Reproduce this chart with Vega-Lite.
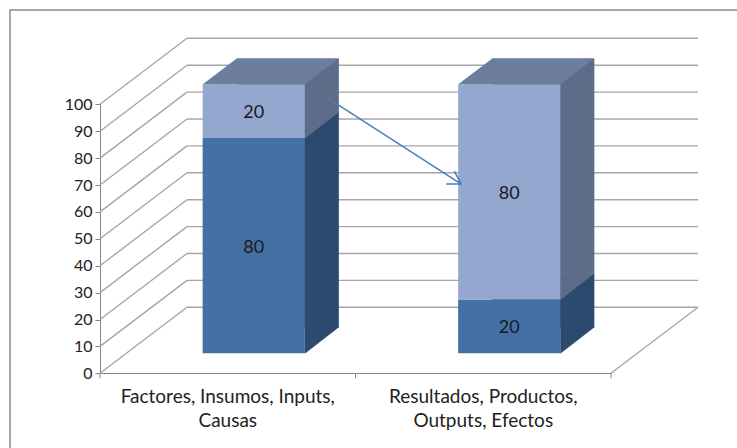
{
  "$schema": "https://vega.github.io/schema/vega-lite/v6.json",
  "width": 730,
  "height": 441,
  "autosize": {"type": "none"},
  "padding": {"left": 10, "top": 10, "right": -3, "bottom": -3},
  "background": "white",
  "config": {
    "font": "Lato",
    "view": {"stroke": "#8c8c8c", "strokeWidth": 1.5},
    "axis": {"grid": false, "domainColor": "#868686", "tickColor": "#868686", "tickSize": 5, "labelColor": "#222222"}
  },
  "datasets": {
    "bars": [
      {"cat": "Factores, Insumos, Inputs, Causas", "serie": "Serie 1", "value": 80},
      {"cat": "Factores, Insumos, Inputs, Causas", "serie": "Serie 2", "value": 20},
      {"cat": "Resultados, Productos, Outputs, Efectos", "serie": "Serie 1", "value": 20},
      {"cat": "Resultados, Productos, Outputs, Efectos", "serie": "Serie 2", "value": 80}
    ],
    "cats": [
      {"cat": "Factores, Insumos, Inputs, Causas"},
      {"cat": "Resultados, Productos, Outputs, Efectos"}
    ],
    "ticks": [{"v": 0}, {"v": 10}, {"v": 20}, {"v": 30}, {"v": 40}, {"v": 50}, {"v": 60}, {"v": 70}, {"v": 80}, {"v": 90}, {"v": 100}]
  },
  "layer": [
    {
      "data": {"name": "bars"},
      "transform": [{"stack": "value", "groupby": ["cat"], "sort": [{"field": "serie", "order": "ascending"}], "as": ["v0", "v1"]}],
      "mark": {"type": "bar", "width": {"band": 0.4}, "opacity": 0},
      "encoding": {
        "x": {
          "field": "cat", "type": "nominal", "title": null,
          "scale": {"domain": ["Factores, Insumos, Inputs, Causas", "Resultados, Productos, Outputs, Efectos"], "range": [90, 601], "paddingInner": 0, "paddingOuter": 0},
          "axis": {"orient": "bottom", "offset": -78, "labelAngle": 0, "ticks": false, "labelFontSize": 19, "labelPadding": 14, "labelLineHeight": 24, "labelLimit": 400,
                   "labelExpr": "datum.value == 'Factores, Insumos, Inputs, Causas' ? ['Factores, Insumos, Inputs,', 'Causas'] : ['Resultados, Productos,', 'Outputs, Efectos']"}
        },
        "y": {
          "field": "v1", "type": "quantitative", "title": null,
          "scale": {"domain": [0, 100], "range": [363.3, 94.3], "nice": false},
          "axis": {"orient": "left", "offset": -90, "values": [0, 10, 20, 30, 40, 50, 60, 70, 80, 90, 100], "labelFontSize": 16, "labelPadding": 3}
        },
        "y2": {"field": "v0"}
      }
    },
    {
      "data": {"name": "cats"},
      "mark": {"type": "rule", "color": "#868686", "strokeWidth": 1, "xOffset": -127.75, "x2Offset": -127.75, "y2Offset": 5},
      "encoding": {
        "x": {"field": "cat", "type": "nominal", "title": null},
        "x2": {"field": "cat"},
        "y": {"datum": 0, "type": "quantitative", "title": null},
        "y2": {"datum": 0}
      }
    },
    {
      "data": {"values": [{}]},
      "mark": {"type": "rule", "color": "#868686", "strokeWidth": 1, "xOffset": 127.75, "x2Offset": 127.75, "y2Offset": 5},
      "encoding": {
        "x": {"datum": "Resultados, Productos, Outputs, Efectos", "type": "nominal", "title": null},
        "x2": {"datum": "Resultados, Productos, Outputs, Efectos"},
        "y": {"datum": 0, "type": "quantitative", "title": null},
        "y2": {"datum": 0}
      }
    },
    {
      "data": {"name": "ticks"},
      "mark": {"type": "rule", "color": "#a6a6a6", "strokeWidth": 1.4, "xOffset": -40.75, "x2Offset": 214.75, "yOffset": -66, "y2Offset": -66},
      "encoding": {
        "x": {"datum": "Factores, Insumos, Inputs, Causas", "type": "nominal", "title": null},
        "x2": {"datum": "Resultados, Productos, Outputs, Efectos"},
        "y": {"field": "v", "type": "quantitative", "title": null},
        "y2": {"field": "v"}
      }
    },
    {
      "data": {"name": "ticks"},
      "mark": {"type": "rule", "color": "#a6a6a6", "strokeWidth": 1.4, "xOffset": -127.75, "x2Offset": -40.75, "y2Offset": -66},
      "encoding": {
        "x": {"datum": "Factores, Insumos, Inputs, Causas", "type": "nominal", "title": null},
        "x2": {"datum": "Factores, Insumos, Inputs, Causas"},
        "y": {"field": "v", "type": "quantitative", "title": null},
        "y2": {"field": "v"}
      }
    },
    {
      "data": {"name": "ticks"},
      "transform": [{"filter": "datum.v == 0"}],
      "mark": {"type": "rule", "color": "#a6a6a6", "strokeWidth": 1.4, "xOffset": 127.75, "x2Offset": 214.75, "y2Offset": -66},
      "encoding": {
        "x": {"datum": "Resultados, Productos, Outputs, Efectos", "type": "nominal", "title": null},
        "x2": {"datum": "Resultados, Productos, Outputs, Efectos"},
        "y": {"field": "v", "type": "quantitative", "title": null},
        "y2": {"field": "v"}
      }
    },
    {
      "data": {"name": "bars"},
      "transform": [{"stack": "value", "groupby": ["cat"], "sort": [{"field": "serie", "order": "ascending"}], "as": ["v0", "v1"]}],
      "mark": {"type": "bar", "width": {"band": 0.4}, "xOffset": 60, "yOffset": -45.7, "y2Offset": -45.7},
      "encoding": {
        "x": {"field": "cat", "type": "nominal", "title": null},
        "y": {"field": "v1", "type": "quantitative", "title": null},
        "y2": {"field": "v0"},
        "color": {"field": "serie", "type": "nominal", "legend": null, "scale": {"domain": ["Serie 1", "Serie 2"], "range": ["#2c4a6e", "#5c6c89"]}}
      }
    },
    {
      "data": {"name": "bars"},
      "transform": [{"stack": "value", "groupby": ["cat"], "sort": [{"field": "serie", "order": "ascending"}], "as": ["v0", "v1"]}],
      "mark": {"type": "point", "shape": "M77,-19.5L77,-46.2L111.5,-46.2Z", "size": 4, "filled": true, "opacity": 1, "strokeWidth": 0},
      "encoding": {
        "x": {"field": "cat", "type": "nominal", "title": null},
        "y": {"field": "v0", "type": "quantitative", "title": null},
        "color": {"field": "serie", "type": "nominal", "legend": null, "scale": {"domain": ["Serie 1", "Serie 2"], "range": ["#2c4a6e", "#5c6c89"]}}
      }
    },
    {
      "data": {"name": "bars"},
      "transform": [{"stack": "value", "groupby": ["cat"], "sort": [{"field": "serie", "order": "ascending"}], "as": ["v0", "v1"]}],
      "mark": {"type": "bar", "width": {"band": 0.4}, "xOffset": 26, "yOffset": -20, "y2Offset": -20},
      "encoding": {
        "x": {"field": "cat", "type": "nominal", "title": null},
        "y": {"field": "v1", "type": "quantitative", "title": null},
        "y2": {"field": "v0"},
        "color": {"field": "serie", "type": "nominal", "legend": null, "scale": {"domain": ["Serie 1", "Serie 2"], "range": ["#4470a5", "#94a8cf"]}}
      }
    },
    {
      "data": {"name": "bars"},
      "transform": [
        {"stack": "value", "groupby": ["cat"], "sort": [{"field": "serie", "order": "ascending"}], "as": ["v0", "v1"]},
        {"filter": "datum.serie == 'Serie 2'"}
      ],
      "mark": {"type": "point", "shape": "M-25,-20L77,-20L111,-45.7L9,-45.7Z", "size": 4, "filled": true, "opacity": 1, "strokeWidth": 0, "color": "#6c7d9e"},
      "encoding": {
        "x": {"field": "cat", "type": "nominal", "title": null},
        "y": {"field": "v1", "type": "quantitative", "title": null}
      }
    },
    {
      "data": {"name": "bars"},
      "transform": [
        {"stack": "value", "groupby": ["cat"], "sort": [{"field": "serie", "order": "ascending"}], "as": ["v0", "v1"]},
        {"calculate": "(datum.v0 + datum.v1) / 2", "as": "mid"}
      ],
      "mark": {"type": "text", "xOffset": 26, "yOffset": -18, "fontSize": 18, "color": "#1a1a1a", "baseline": "middle", "align": "center"},
      "encoding": {
        "x": {"field": "cat", "type": "nominal", "title": null},
        "y": {"field": "mid", "type": "quantitative", "title": null},
        "text": {"field": "value", "type": "quantitative"}
      }
    },
    {
      "data": {"values": [{}]},
      "mark": {"type": "rule", "color": "#4a7ebb", "strokeWidth": 1.5, "xOffset": 100, "x2Offset": -22, "yOffset": -20, "y2Offset": -20},
      "encoding": {
        "x": {"datum": "Factores, Insumos, Inputs, Causas", "type": "nominal", "title": null},
        "x2": {"datum": "Resultados, Productos, Outputs, Efectos"},
        "y": {"datum": 94.9, "type": "quantitative", "title": null},
        "y2": {"datum": 62.9}
      }
    },
    {
      "data": {"values": [{}]},
      "mark": {"type": "point", "shape": "M-15,0L0,0L-7,-13", "size": 4, "filled": false, "opacity": 1, "stroke": "#4a7ebb", "strokeWidth": 1.5, "xOffset": -22, "yOffset": -20},
      "encoding": {
        "x": {"datum": "Resultados, Productos, Outputs, Efectos", "type": "nominal", "title": null},
        "y": {"datum": 62.9, "type": "quantitative", "title": null}
      }
    }
  ],
  "resolve": {"scale": {"color": "independent"}}
}
